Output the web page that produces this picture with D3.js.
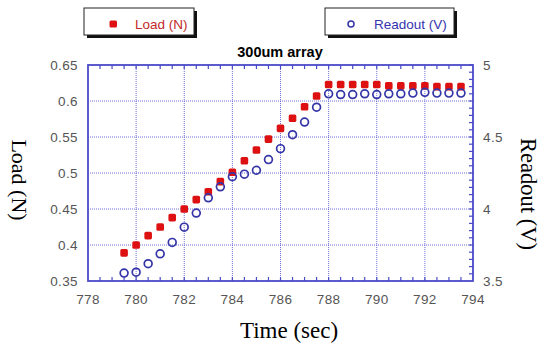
<!DOCTYPE html>
<html>
<head>
<meta charset="utf-8">
<script src="https://cdn.jsdelivr.net/npm/d3@7"></script>
<style>
  body { margin: 0; background: #fff; }
  svg { display: block; }
</style>
</head>
<body>
<div id="canvas"></div>
<script>
// time (sec) for every sample
const times = [779.5, 780, 780.5, 781, 781.5, 782, 782.5, 783, 783.5, 784, 784.5, 785, 785.5, 786, 786.5,
    787, 787.5, 788, 788.5, 789, 789.5, 790, 790.5, 791, 791.5, 792, 792.5, 793, 793.5];
// load in N (left axis)
const loadValues = [0.389, 0.400, 0.413, 0.425, 0.438, 0.450, 0.463, 0.474, 0.488, 0.501, 0.517, 0.532, 0.547, 0.562, 0.576,
    0.592, 0.607, 0.623, 0.623, 0.623, 0.623, 0.623, 0.621, 0.621, 0.621, 0.621, 0.620, 0.620, 0.620];
// readout in V (right axis)
const readoutValues = [3.555, 3.561, 3.620, 3.689, 3.768, 3.874, 3.972, 4.078, 4.154, 4.224, 4.242, 4.269, 4.343, 4.419, 4.516,
    4.604, 4.707, 4.800, 4.795, 4.795, 4.800, 4.795, 4.800, 4.800, 4.805, 4.810, 4.805, 4.805, 4.805];

const xTicks = [778, 780, 782, 784, 786, 788, 790, 792, 794];
const loadTicks = [0.35, 0.4, 0.45, 0.5, 0.55, 0.6, 0.65];
const readoutTicks = [3.5, 4, 4.5, 5];

const width = 543, height = 352;
const plot = { left: 88, right: 473, top: 65, bottom: 281 };
const frameColor = "#4a4ac8";

const svg = d3.select("#canvas")
    .append("svg")
    .attr("width", width)
    .attr("height", height)
    .style("font-family", "'Liberation Sans', Arial, sans-serif");

const x = d3.scaleLinear().domain([778, 794]).range([plot.left, plot.right]);
const yLoad = d3.scaleLinear().domain([0.35, 0.65]).range([plot.bottom, plot.top]);
const yRead = d3.scaleLinear().domain([3.5, 5]).range([plot.bottom, plot.top]);

// grid (dotted)
const grid = svg.append("g")
    .attr("stroke", "#6f6fd6")
    .attr("stroke-width", 1)
    .attr("stroke-dasharray", "1,1");
grid.selectAll("line.gx")
    .data(xTicks.slice(1, -1))
    .enter().append("line")
    .attr("x1", d => x(d)).attr("x2", d => x(d))
    .attr("y1", plot.top).attr("y2", plot.bottom);
grid.selectAll("line.gy")
    .data(loadTicks.slice(1, -1))
    .enter().append("line")
    .attr("x1", plot.left).attr("x2", plot.right)
    .attr("y1", d => yLoad(d)).attr("y2", d => yLoad(d));

// minor ticks, inward
const ticks = svg.append("g").attr("stroke", frameColor).attr("stroke-width", 1.2);
const xMinor = d3.range(778.5, 794, 0.5);
["top", "bottom"].forEach(side => {
    const y0 = plot[side];
    const dir = side === "top" ? 1 : -1;
    ticks.selectAll(null)
        .data(xMinor)
        .enter().append("line")
        .attr("x1", d => x(d)).attr("x2", d => x(d))
        .attr("y1", y0).attr("y2", y0 + dir * 4);
});
ticks.selectAll(null)
    .data(d3.range(3.55, 5, 0.05))
    .enter().append("line")
    .attr("x1", plot.right).attr("x2", plot.right - 4)
    .attr("y1", d => yRead(d)).attr("y2", d => yRead(d));

// frame
svg.append("rect")
    .attr("x", plot.left).attr("y", plot.top)
    .attr("width", plot.right - plot.left)
    .attr("height", plot.bottom - plot.top)
    .attr("fill", "none")
    .attr("stroke", frameColor)
    .attr("stroke-width", 1.8);

// tick labels
const labelColor = "#555";
svg.append("g").selectAll("text")
    .data(xTicks)
    .enter().append("text")
    .attr("x", d => x(d))
    .attr("y", plot.bottom + 23)
    .attr("text-anchor", "middle")
    .attr("font-size", 13.5)
    .attr("letter-spacing", 0.4)
    .attr("fill", labelColor)
    .text(d => d);
svg.append("g").selectAll("text")
    .data(loadTicks)
    .enter().append("text")
    .attr("x", plot.left - 10)
    .attr("y", d => yLoad(d) + 5)
    .attr("text-anchor", "end")
    .attr("font-size", 13.5)
    .attr("letter-spacing", 0.4)
    .attr("fill", labelColor)
    .text(d => d);
svg.append("g").selectAll("text")
    .data(readoutTicks)
    .enter().append("text")
    .attr("x", plot.right + 10)
    .attr("y", d => yRead(d) + 5)
    .attr("font-size", 13.5)
    .attr("letter-spacing", 0.4)
    .attr("fill", labelColor)
    .text(d => d);

// points
const pts = times.map((t, i) => ({ t, load: loadValues[i], read: readoutValues[i] }));
svg.append("g").selectAll("rect")
    .data(pts)
    .enter().append("rect")
    .attr("x", d => x(d.t) - 3.8)
    .attr("y", d => yLoad(d.load) - 3.8)
    .attr("width", 7.6).attr("height", 7.6)
    .attr("rx", 1.6)
    .attr("fill", "#dd1111");
svg.append("g").selectAll("circle")
    .data(pts)
    .enter().append("circle")
    .attr("cx", d => x(d.t))
    .attr("cy", d => yRead(d.read))
    .attr("r", 3.9)
    .attr("fill", "none")
    .attr("stroke", "#3535a8")
    .attr("stroke-width", 1.7);

// title
svg.append("text")
    .attr("x", 280).attr("y", 57)
    .attr("text-anchor", "middle")
    .attr("font-size", 14.5)
    .attr("font-weight", "bold")
    .text("300um array");

// legends
function legendBox(x0, w, textX, label, color, marker) {
    const g = svg.append("g");
    g.append("rect").attr("x", x0 + 3).attr("y", 11).attr("width", w).attr("height", 27).attr("fill", "#111");
    g.append("rect").attr("x", x0).attr("y", 8).attr("width", w).attr("height", 27)
        .attr("fill", "#fff").attr("stroke", "#222").attr("stroke-width", 1);
    marker(g);
    g.append("text").attr("x", textX).attr("y", 28.5)
        .attr("font-size", 13.5).attr("fill", color).text(label);
}
legendBox(84, 110, 135, "Load (N)", "#c02a2a", g => g.append("rect")
    .attr("x", 109.5).attr("y", 20.5).attr("width", 7.5).attr("height", 7).attr("rx", 1.5).attr("fill", "#dd1111"));
legendBox(325, 129, 374, "Readout (V)", "#3535b0", g => g.append("circle")
    .attr("cx", 351).attr("cy", 24).attr("r", 3).attr("fill", "none")
    .attr("stroke", "#3535a8").attr("stroke-width", 1.5));

// axis titles (serif)
const serif = "'Liberation Serif', 'Times New Roman', serif";
svg.append("text")
    .attr("transform", "translate(12,180) rotate(90)")
    .attr("text-anchor", "middle")
    .attr("font-family", serif).attr("font-size", 22)
    .text("Load (N)");
svg.append("text")
    .attr("transform", "translate(521,194) rotate(90)")
    .attr("text-anchor", "middle")
    .attr("font-family", serif).attr("font-size", 22.5)
    .text("Readout (V)");
svg.append("text")
    .attr("x", 289).attr("y", 338)
    .attr("text-anchor", "middle")
    .attr("font-family", serif).attr("font-size", 23)
    .text("Time (sec)");
</script>
</body>
</html>
